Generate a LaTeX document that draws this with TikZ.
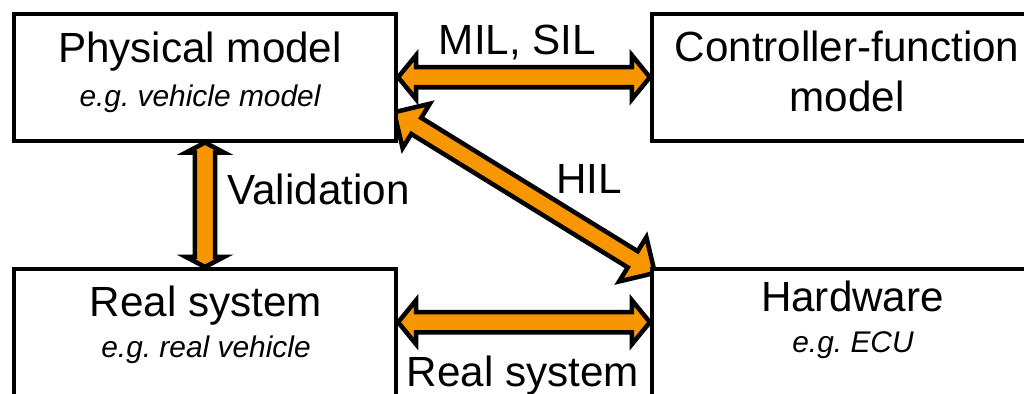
\documentclass[tikz,border=0pt]{standalone}
\usepackage{fontspec}
\setmainfont{Liberation Sans}
\usetikzlibrary{calc,backgrounds}
\definecolor{xilorange}{RGB}{247,150,0}
\tikzset{blk/.style={draw,fill=white,line width=0.04cm,inner sep=0,minimum height=1.265cm},
  ttl/.style={font=\fontsize{12}{14.1}\selectfont,inner sep=0,anchor=base},
  eg/.style={font=\fontsize{8.5}{10}\selectfont\itshape,inner sep=0,anchor=base},
  fat/.style n args={3}{draw=black,fill=xilorange,line width=0.045cm,to path={
    -- ($(\tikztostart)!#1!(\tikztotarget)!#3!90:(\tikztotarget)$)
    -- ($(\tikztostart)!#1!(\tikztotarget)!#2!90:(\tikztotarget)$)
    -- ($(\tikztotarget)!#1!(\tikztostart)!#2!-90:(\tikztostart)$)
    -- ($(\tikztotarget)!#1!(\tikztostart)!#3!-90:(\tikztostart)$)
    -- (\tikztotarget)
    -- ($(\tikztotarget)!#1!(\tikztostart)!#3!90:(\tikztostart)$)
    -- ($(\tikztotarget)!#1!(\tikztostart)!#2!90:(\tikztostart)$)
    -- ($(\tikztostart)!#1!(\tikztotarget)!#2!-90:(\tikztotarget)$)
    -- ($(\tikztostart)!#1!(\tikztotarget)!#3!-90:(\tikztotarget)$)
    -- cycle}}}

\begin{document}
\begin{tikzpicture}[x=0.01cm,y=0.01cm]
    \useasboundingbox (0,0) rectangle (1024,394);
    \node[blk,minimum width=3.82cm] (pm) at (205,316.75) {};
    \node[blk,minimum width=3.92cm] (cf) at (848,316.75) {};
    \node[blk,minimum width=3.82cm] (rs) at (205,61.75) {};
    \node[blk,minimum width=3.92cm] (hw) at (848,61.75) {};

    \begin{scope}[on background layer]
    \draw [fat={0.18cm}{0.1cm}{0.22cm}] (pm.east) to (cf.west);
    \draw [fat={0.1cm}{0.1cm}{0.19cm}] (pm.south) to (rs.north);
    \draw [fat={0.18cm}{0.1cm}{0.22cm}] ([shift={(0,10)}]rs.east) to ([shift={(0,10)}]hw.west);
    \draw [fat={0.26cm}{0.095cm}{0.26cm}] ([shift={(-4,-35)}]pm.east) to ([shift={(5,-6)}]hw.north west);
    \end{scope}

    \node[ttl] (pmname) at (200,331) {Physical model};
    \node[eg] (pmeg) at (200,287) {e.g.\ vehicle model};
    \node[ttl,anchor=center,align=center] (cfname) at (847,322.5) {Controller-function\\model};
    \node[ttl] (rsname) at (206,77) {Real system};
    \node[eg] (rseg) at (206,36) {e.g.\ real vehicle};
    \node[ttl] (hwname) at (852.5,82) {Hardware};
    \node[eg] (hweg) at (853,41) {e.g.\ ECU};

    \node[ttl] (milsil) at (517.5,339) {MIL, SIL};
    \node[ttl] (valid) at (318.5,189) {Validation};
    \node[ttl] (hil) at (589,200) {HIL};
    \node[ttl] (realsys) at (523,7) {Real system};
\end{tikzpicture}
\end{document}
